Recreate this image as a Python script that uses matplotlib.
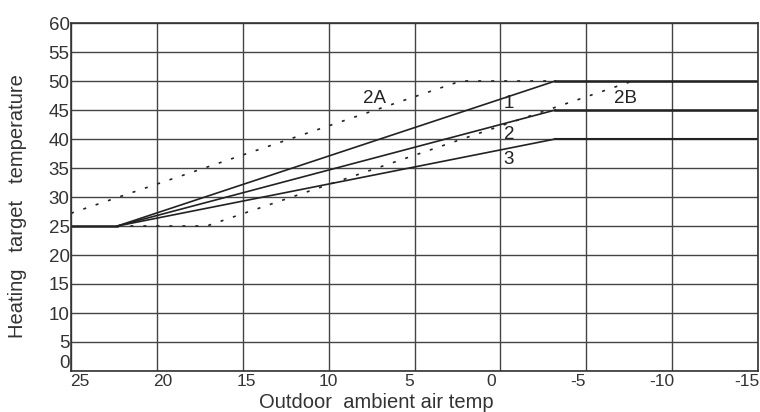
import matplotlib.pyplot as plt
import matplotlib.transforms as mtransforms

plt.rcParams['font.family'] = ['Liberation Sans', 'DejaVu Sans']

# curves: outdoor temp (x) vs heating target temp (y)
line1_x = [25, 22.3, -3.2, -15]
line1_y = [25, 25, 50, 50]
line2_x = [22.3, -3.2, -15]
line2_y = [25, 45, 45]
line3_x = [22.3, -3.2, -15]
line3_y = [25, 40, 40]
line2a_x = [25, 2.3, -3.2]
line2a_y = [27.2, 50, 50]
line2b_x = [22.3, 17.1, -7.7]
line2b_y = [25, 25, 50]

labels = ['2A', '1', '2', '3', '2B']
label_x = [7.3, -0.5, -0.5, -0.5, -7.3]
label_y = [47, 46.2, 40.7, 36.4, 47]

xticks = [25, 20, 15, 10, 5, 0, -5, -10, -15]
yticks = [0, 5, 10, 15, 20, 25, 30, 35, 40, 45, 50, 55, 60]

fig = plt.figure(figsize=(7.6, 4.12), dpi=100)
ax = fig.add_axes([71 / 760, 41 / 412, 687 / 760, 348 / 412])

dark = '#222222'
ax.plot(line1_x[2:], line1_y[2:], color=dark, lw=1.8)
ax.plot(line2_x[1:], line2_y[1:], color=dark, lw=1.8)
ax.plot(line3_x[1:], line3_y[1:], color=dark, lw=1.5)
ax.plot(line1_x[:2], line1_y[:2], color=dark, lw=1.8)
ax.plot(line1_x[1:3], line1_y[1:3], color=dark, lw=1.2)
ax.plot(line2_x[:2], line2_y[:2], color=dark, lw=1.2)
ax.plot(line3_x[:2], line3_y[:2], color=dark, lw=1.2)
ax.plot(line2a_x, line2a_y, color=dark, lw=1.2, linestyle=(0, (1.8, 6.0)))
ax.plot(line2b_x, line2b_y, color=dark, lw=1.2, linestyle=(0, (1.8, 6.0)))

for t, x, y in zip(labels, label_x, label_y):
    ax.text(x, y, t, fontsize=13.5, color=dark, ha='center', va='center')

ax.set_xlim(25, -15)
ax.set_ylim(0, 60)
ax.set_xticks(xticks)
ax.set_yticks(yticks)
ax.set_xticklabels([str(v) for v in xticks], fontsize=12.5, color='#333333')
ax.set_yticklabels([str(v) for v in yticks], fontsize=13.5, color='#333333')
ax.tick_params(length=0, pad=2)
ax.tick_params(axis='y', pad=1)
ax.grid(True, color='#444444', lw=1.0)
for s in ax.spines.values():
    s.set_color('#333333')
    s.set_linewidth(1.2)

# tick labels in the source drift slightly off their gridlines
shifts_px = [9, 6, 4, 0, -5, -9, -8, -10, -11]
for lbl, dx in zip(ax.get_xticklabels(), shifts_px):
    lbl.set_transform(lbl.get_transform() + mtransforms.ScaledTranslation(dx / 100, 0, fig.dpi_scale_trans))
zero = ax.get_yticklabels()[0]
zero.set_transform(zero.get_transform() + mtransforms.ScaledTranslation(0, 0.1, fig.dpi_scale_trans))

fig.text(18 / 760, 0.5, 'Heating   target   temperature', rotation=90, fontsize=14.5,
         color='#333333', ha='center', va='center')
fig.text(376 / 760, 9 / 412, 'Outdoor  ambient air temp', fontsize=14.5,
         color='#333333', ha='center', va='center')

fig.savefig('out.png', dpi=100)
